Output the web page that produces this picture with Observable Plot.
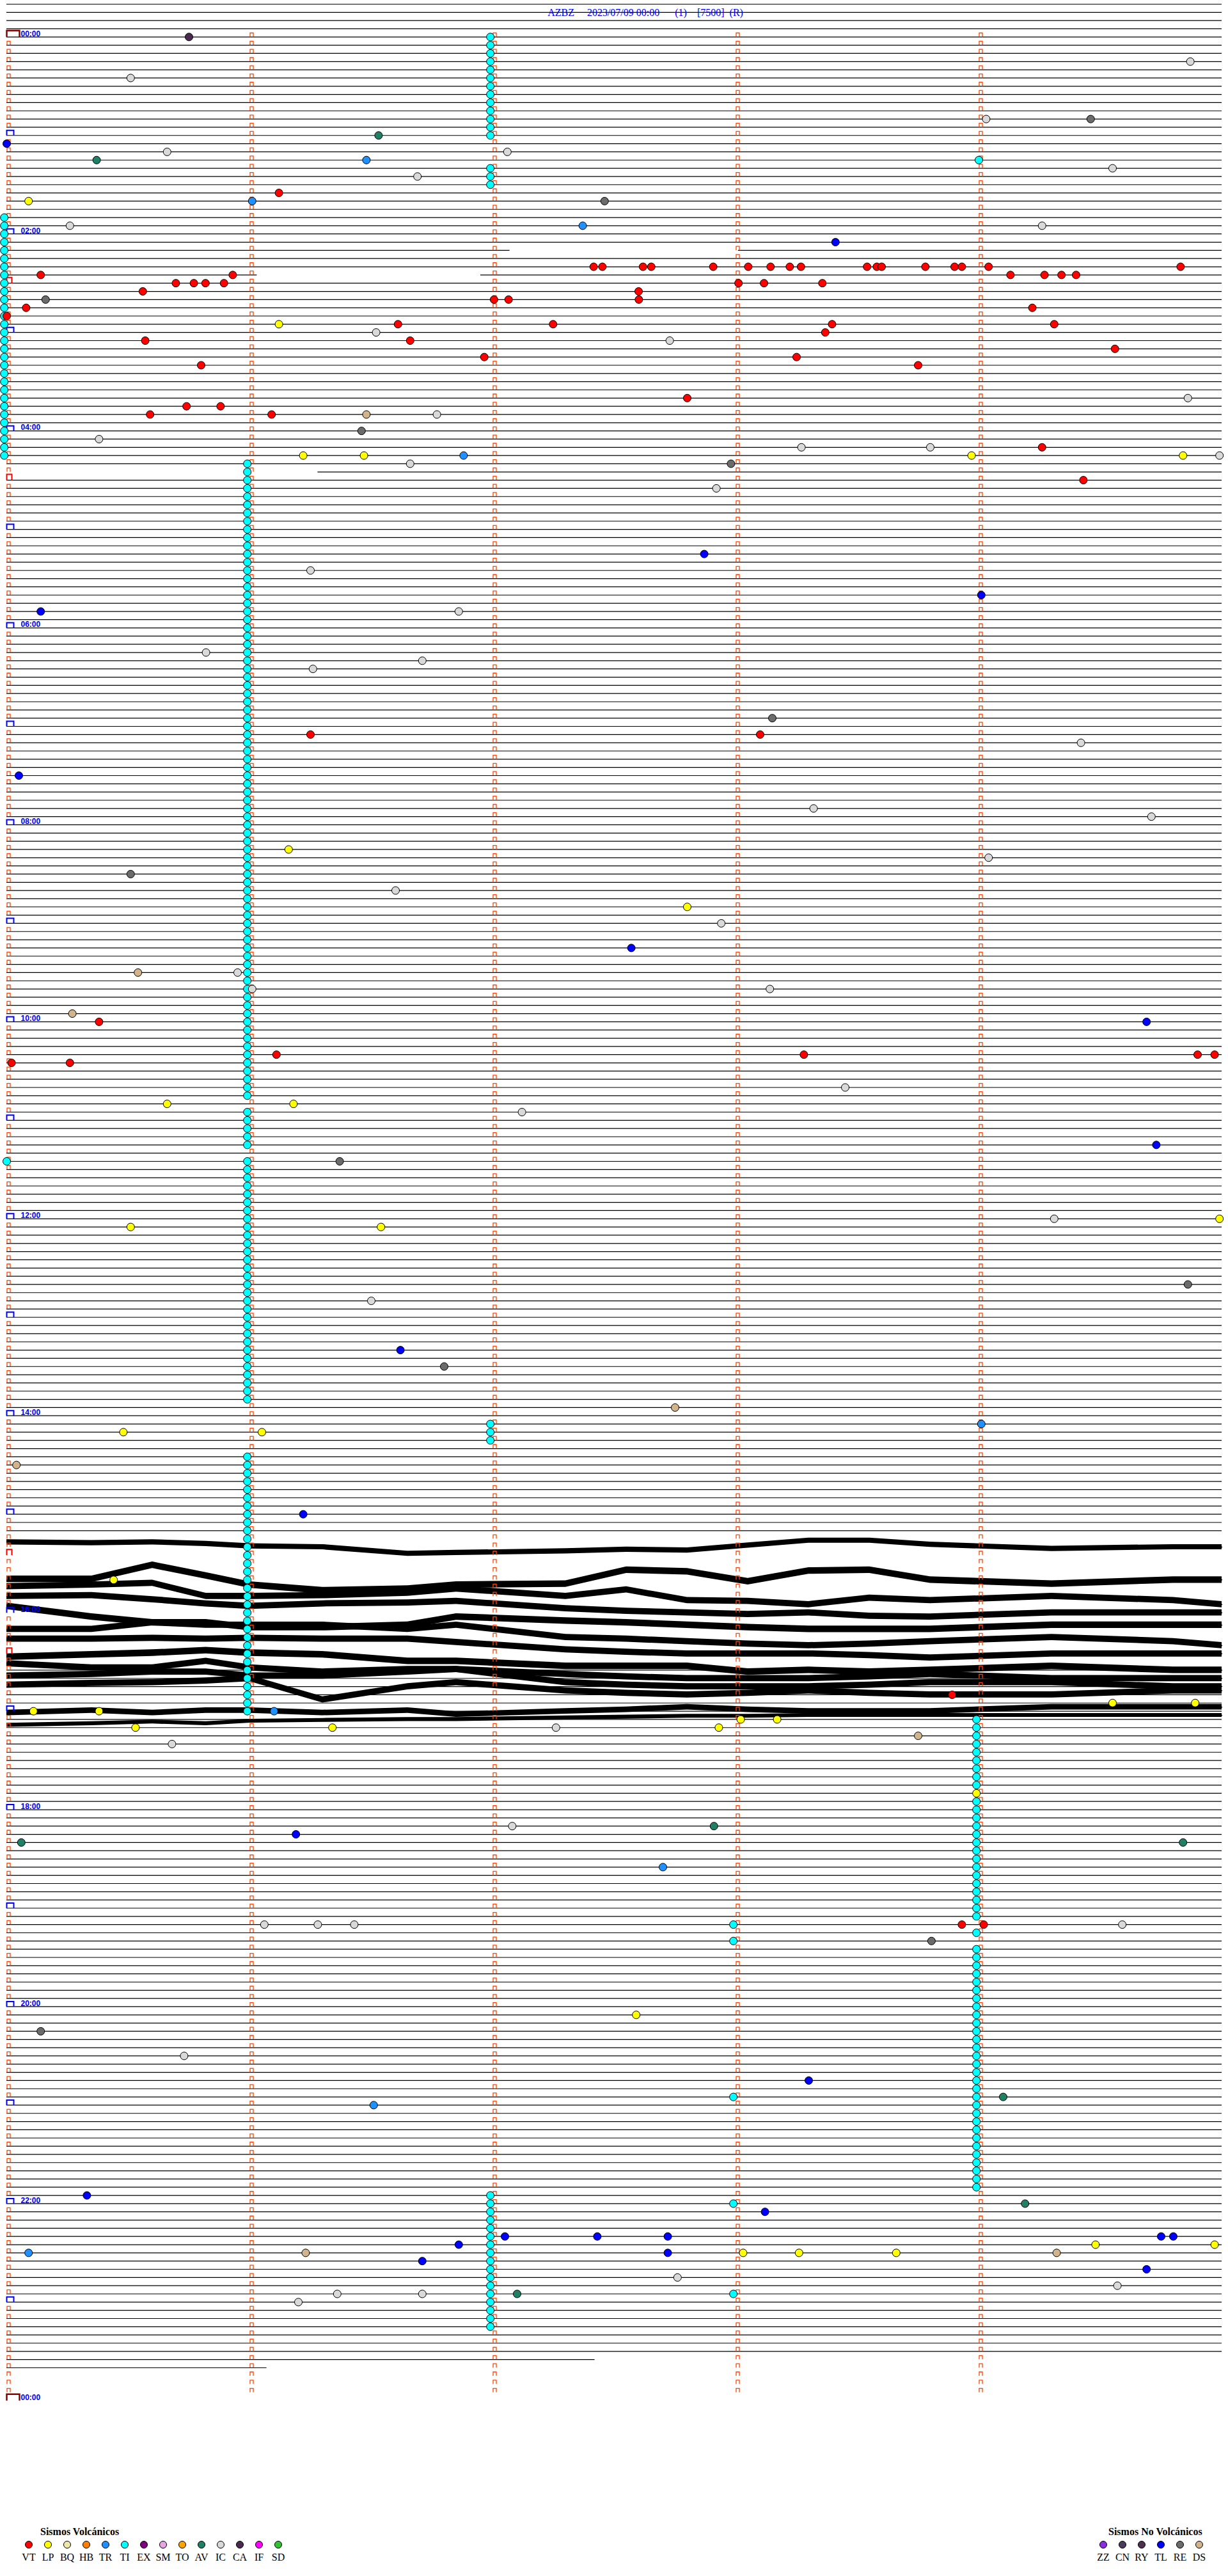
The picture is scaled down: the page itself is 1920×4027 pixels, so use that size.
<!DOCTYPE html>
<html><head><meta charset="utf-8">
<script src="https://cdn.jsdelivr.net/npm/d3@7"></script>
<script src="https://cdn.jsdelivr.net/npm/@observablehq/plot@0.6"></script>
<style>
body{margin:0;background:#fff;}
#chart svg{display:block;}
#legend{position:relative;width:1920px;height:97px;font-family:"Liberation Serif","Times New Roman",serif;color:#000;}
#legend .hdr{position:absolute;font-weight:bold;font-size:16px;transform:translateY(-50%);white-space:nowrap;}
#legend .sw{position:absolute;width:12px;height:12px;border-radius:50%;border:1px solid #000;box-sizing:border-box;transform:translate(-50%,-50%);}
#legend .lb{position:absolute;font-size:16px;transform:translate(-50%,-50%);white-space:nowrap;}
</style></head><body>
<div id="chart"></div>
<div id="legend"></div>
<script>
// ---------------- DATA ----------------
const titleText = "AZBZ\u00a0\u00a0\u00a0\u00a0\u00a02023/07/09 00:00\u00a0\u00a0\u00a0\u00a0\u00a0\u00a0(1)\u00a0\u00a0\u00a0\u00a0[7500]\u00a0\u00a0(R)";
const rowsPerDay = 288;           // 5-minute lines
const preRows = [-4, -3, -2, -1];  // lines above 00:00
const lastLineRow = 284;
const hourLabels = ["00:00","02:00","04:00","06:00","08:00","10:00","12:00","14:00","16:00","18:00","20:00","22:00","00:00"];
const minuteTicks = [0, 1, 2, 3, 4];

const volcCodes  = ["VT","LP","BQ","HB","TR","TI","EX","SM","TO","AV","IC","CA","IF","SD"];
const volcColors = ["#ff0000","#ffff00","#eee8aa","#ff8000","#1e90ff","#00ffff","#800080","#e6a6e6","#ffa500","#1f8066","#d9d9d9","#4b2a4f","#ff00ff","#33c033"];
const nvCodes    = ["ZZ","CN","RY","TL","RE","DS"];
const nvColors   = ["#8a2be2","#4a3a5c","#503050","#0000ff","#6b6b6b","#d2b48c"];

// rows with partial lines: [row, [[fromMinute, toMinute], ...]]
const partialLines = [
  [26, [[0, 2.07], [3.01, 5]]],
  [29, [[0, 1.03], [1.95, 5]]],
  [53, [[1.28, 5]]],
  [283, [[0, 2.42]]],
  [284, [[0, 1.07]]]
];
// rows where the trace is a noisy drifting band instead of a clean line
const noiseRows = [183,184,185,186,187,188,189,190,191,192,193,194,195,196,197,198];
// red reset brackets (rows)
const redBracketRows = [30, 54, 185, 197];

// continuous tremor (TI) columns: [minute, fromRow, toRow]
const tiColumns = [
  [1.99, 0, 12], [1.99, 16, 18],
  [-0.01, 22, 51],
  [0.99, 52, 129], [0.99, 131, 135], [0.99, 137, 166],
  [1.99, 169, 171],
  [0.99, 173, 204],
  [3.99, 205, 213], [3.99, 215, 229], [3.99, 231, 231], [3.99, 233, 262],
  [1.99, 263, 279]
];

// individual events: [row, minute, code]
const events = [
  [0,0.75,"CA"],[3,4.87,"IC"],[5,0.51,"IC"],[10,4.03,"IC"],[10,4.46,"RE"],[12,1.53,"AV"],
  [13,0.0,"TL"],[14,0.66,"IC"],[14,2.06,"IC"],[15,0.37,"AV"],[15,1.48,"TR"],[15,4.0,"TI"],
  [16,4.55,"IC"],[17,1.69,"IC"],[19,1.12,"VT"],[20,0.09,"LP"],[20,1.01,"TR"],[20,2.46,"RE"],
  [23,0.26,"IC"],[23,2.37,"TR"],[23,4.26,"IC"],[25,3.41,"TL"],
  [28,2.415,"VT"],[28,2.451,"VT"],[28,2.618,"VT"],[28,2.652,"VT"],[28,2.907,"VT"],[28,3.051,"VT"],
  [28,3.143,"VT"],[28,3.222,"VT"],[28,3.268,"VT"],[28,3.54,"VT"],[28,3.58,"VT"],[28,3.60,"VT"],
  [28,3.78,"VT"],[28,3.90,"VT"],[28,3.93,"VT"],[28,4.04,"VT"],[28,4.83,"VT"],
  [29,0.14,"VT"],[29,0.93,"VT"],[29,4.13,"VT"],[29,4.27,"VT"],[29,4.34,"VT"],[29,4.40,"VT"],
  [30,0.696,"VT"],[30,0.77,"VT"],[30,0.818,"VT"],[30,0.894,"VT"],[30,3.011,"VT"],[30,3.116,"VT"],[30,3.356,"VT"],
  [31,0.56,"VT"],[31,2.60,"VT"],[32,0.16,"RE"],[32,2.005,"VT"],[32,2.065,"VT"],[32,2.601,"VT"],
  [33,0.08,"VT"],[33,4.22,"VT"],[34,0.0,"VT"],
  [35,1.12,"LP"],[35,1.61,"VT"],[35,2.248,"VT"],[35,3.396,"VT"],[35,4.31,"VT"],
  [36,1.52,"IC"],[36,3.368,"VT"],[37,0.57,"VT"],[37,1.66,"VT"],[37,2.728,"IC"],[38,4.56,"VT"],
  [39,1.965,"VT"],[39,3.25,"VT"],[40,0.80,"VT"],[40,3.75,"VT"],
  [44,2.80,"VT"],[44,4.86,"IC"],[45,0.74,"VT"],[45,0.88,"VT"],[46,0.59,"VT"],[46,1.09,"VT"],
  [46,1.48,"DS"],[46,1.77,"IC"],[48,1.46,"RE"],[49,0.38,"IC"],
  [50,3.27,"IC"],[50,3.80,"IC"],[50,4.26,"VT"],[51,1.22,"LP"],[51,1.47,"LP"],[51,1.88,"TR"],
  [51,3.97,"LP"],[51,4.84,"LP"],[51,4.99,"IC"],[52,1.66,"IC"],[52,2.98,"RE"],[54,4.43,"VT"],[55,2.92,"IC"],
  [63,2.87,"TL"],[65,1.25,"IC"],[68,4.01,"TL"],[70,0.14,"TL"],[70,1.86,"IC"],[75,0.82,"IC"],
  [76,1.71,"IC"],[77,1.26,"IC"],[83,3.15,"RE"],[85,1.25,"VT"],[85,3.10,"VT"],[86,4.42,"IC"],
  [90,0.05,"TL"],[94,3.32,"IC"],[95,4.71,"IC"],[99,1.16,"LP"],[100,4.04,"IC"],[102,0.51,"RE"],
  [104,1.60,"IC"],[106,2.80,"LP"],[108,2.94,"IC"],[111,2.57,"TL"],[114,0.54,"DS"],[114,0.95,"IC"],
  [116,1.01,"IC"],[116,3.14,"IC"],[119,0.27,"DS"],[120,0.38,"VT"],[120,4.69,"TL"],
  [124,1.11,"VT"],[124,3.28,"VT"],[124,4.90,"VT"],[124,4.97,"VT"],[125,0.02,"VT"],[125,0.26,"VT"],
  [128,3.45,"IC"],[130,0.66,"LP"],[130,1.18,"LP"],[131,2.12,"IC"],[135,4.73,"TL"],[137,0.0,"TI"],
  [137,1.37,"RE"],[144,4.31,"IC"],[144,4.99,"LP"],[145,0.51,"LP"],[145,1.54,"LP"],[152,4.86,"RE"],
  [154,1.50,"IC"],[160,1.62,"TL"],[162,1.80,"RE"],[167,2.75,"DS"],[169,4.01,"TR"],
  [170,0.48,"LP"],[170,1.05,"LP"],[174,0.04,"DS"],[180,1.22,"TL"],
  [188,0.44,"LP"],[202,3.89,"VT"],[203,4.55,"LP"],[203,4.89,"LP"],
  [204,0.11,"LP"],[204,0.38,"LP"],[204,1.10,"TR"],[205,3.02,"LP"],[205,3.17,"LP"],
  [206,0.53,"LP"],[206,1.34,"LP"],[206,2.26,"IC"],[206,2.93,"LP"],[207,3.75,"DS"],[208,0.68,"IC"],
  [218,2.08,"IC"],[218,2.91,"AV"],[219,1.19,"TL"],[220,0.06,"AV"],[220,4.84,"AV"],[223,2.70,"TR"],
  [214,3.99,"LP"],
  [230,1.06,"IC"],[230,1.28,"IC"],[230,1.43,"IC"],[230,2.99,"TI"],[230,3.93,"VT"],[230,4.02,"VT"],
  [230,4.59,"IC"],[232,2.99,"TI"],[232,3.805,"RE"],
  [241,2.59,"LP"],[243,0.14,"RE"],[246,0.73,"IC"],[249,3.30,"TL"],[251,2.99,"TI"],[251,4.10,"AV"],
  [252,1.51,"TR"],[263,0.33,"TL"],[264,2.99,"TI"],[264,4.19,"AV"],[265,3.12,"TL"],
  [268,2.05,"TL"],[268,2.43,"TL"],[268,2.72,"TL"],[268,4.75,"TL"],[268,4.80,"TL"],[269,1.86,"TL"],
  [269,4.48,"LP"],[269,4.97,"LP"],[270,0.09,"TR"],[270,1.23,"DS"],[270,2.72,"TL"],[270,3.03,"LP"],
  [270,3.26,"LP"],[270,3.66,"LP"],[270,4.32,"DS"],[271,1.71,"TL"],[272,4.69,"TL"],[273,2.76,"IC"],
  [274,4.57,"IC"],[275,1.36,"IC"],[275,1.71,"IC"],[275,2.10,"AV"],[275,2.99,"TI"],[276,1.20,"IC"]
];

// noisy band traces (estimated centre row at sample minutes) and half thickness (rows)
const noiseMinutes = [0, 0.35, 0.6, 0.82, 1.0, 1.3, 1.65, 1.85, 2.3, 2.55, 2.8, 3.05, 3.3, 3.55, 3.8, 4.3, 4.8, 5.0];
const noiseBands = [
  [183.4,183.5,183.4,183.6,183.9,184.0,184.8,184.7,184.5,184.3,184.4,183.8,183.2,183.2,183.7,184.2,184.0,184.0],
  [187.9,187.9,186.2,187.5,188.6,189.3,189.1,188.6,188.5,186.8,187.0,188.2,186.9,186.8,188.0,188.5,188.0,188.0],
  [188.8,188.6,188.4,190.0,190.0,189.9,189.6,189.1,190.0,189.2,190.5,190.6,191.0,190.2,190.5,190.0,190.5,191.0],
  [190.0,189.9,190.4,190.9,191.2,190.9,190.8,190.6,191.5,191.8,192.0,192.2,192.0,192.4,192.5,192.0,192.0,192.0],
  [191.2,192.5,193.2,193.2,193.8,193.8,193.5,192.5,193.0,193.2,193.5,193.8,194.0,194.0,194.0,193.5,193.5,193.5],
  [194.0,194.0,193.2,193.5,193.5,193.5,194.0,193.5,195.0,195.2,195.5,195.8,196.0,195.8,195.5,195.0,195.5,196.0],
  [195.2,195.2,195.1,195.2,195.1,195.2,195.2,195.6,196.5,196.8,197.0,197.0,197.0,197.2,197.5,197.0,197.0,197.0],
  [197.4,197.1,196.9,196.6,196.9,197.1,197.9,197.9,198.5,198.5,198.5,199.2,199.0,199.2,199.0,198.5,199.0,199.0],
  [198.2,198.7,198.7,197.9,198.7,199.2,198.9,198.9,199.5,199.8,200.0,200.0,200.0,199.8,199.5,200.0,200.0,200.0],
  [199.7,199.5,199.2,199.2,199.7,199.7,199.2,198.9,200.5,200.8,201.0,201.0,201.0,200.8,200.5,200.5,201.0,201.0],
  [200.8,200.6,200.5,200.3,200.0,202.6,201.0,200.5,201.5,201.8,202.0,201.8,201.5,201.8,202.0,202.0,201.5,201.5],
  [204.2,203.9,204.2,203.9,203.9,204.2,203.9,204.4,204.0,203.8,203.5,203.8,204.0,204.0,204.0,203.5,203.5,203.5],
  [205.7,205.5,205.3,205.5,205.2,205.1,205.0,205.0,204.8,204.7,204.6,204.6,204.5,204.5,204.5,204.5,204.5,204.5]
];
const noiseHalf = [0.32,0.4,0.38,0.38,0.4,0.38,0.38,0.4,0.38,0.38,0.38,0.34,0.24];

// ---------------- BUILD ----------------
const cap = (w, h) => ({draw(ctx) { ctx.moveTo(-w/2, h/2); ctx.lineTo(-w/2, -h/2); ctx.lineTo(w/2, -h/2); ctx.lineTo(w/2, h/2); }});

const rowLines = [];
for (let r = preRows[0]; r <= lastLineRow; r++) {
  if (noiseRows.includes(r)) continue;
  const p = partialLines.find(d => d[0] === r);
  (p ? p[1] : [[0, 5]]).forEach(([a, b]) => rowLines.push({row: r, x1: a, x2: b}));
}
const hourRows = d3.range(0, rowsPerDay + 1, 12);
const markers = [];
for (let r = 0; r < rowsPerDay; r++) for (const m of minuteTicks) {
  if (m === 0 && (r % 12 === 0 || redBracketRows.includes(r))) continue;
  markers.push({row: r, minute: m});
}
const blueBr = hourRows.filter(r => r > 0 && r < rowsPerDay).map(r => ({row: r}));
const dayBr = [{row: 0}, {row: rowsPerDay}];
const redBr = redBracketRows.map(r => ({row: r}));
const labels = hourLabels.map((t, i) => ({row: i * 24, text: t}));
const tiDots = [];
tiColumns.forEach(([m, a, b]) => { for (let r = a; r <= b; r++) tiDots.push({row: r, minute: m, code: "TI"}); });
const evDots = events.map(([row, minute, code]) => ({row, minute, code}));
const noisePts = [];
noiseBands.forEach((band, i) => band.forEach((c, j) => noisePts.push({band: i, m: noiseMinutes[j], lo: c - noiseHalf[i], hi: c + noiseHalf[i], c})));

const chart = Plot.plot({
  width: 1920, height: 3930, margin: 0,
  style: {background: "#fff", overflow: "visible"},
  x: {domain: [0, 5], range: [10, 1910], axis: null},
  y: {domain: [0, rowsPerDay], range: [57.3, 3752.3], axis: null},
  color: {domain: [...volcCodes, ...nvCodes], range: [...volcColors, ...nvColors]},
  marks: [
    Plot.ruleY(rowLines, {y: "row", x1: "x1", x2: "x2", stroke: "#000", strokeWidth: 1.2}),
    Plot.areaY(noisePts, {x: "m", y1: "lo", y2: "hi", z: "band", fill: "#000", curve: "linear"}),
    Plot.line(noisePts, {x: "m", y: "c", z: "band", stroke: "#000", strokeWidth: 1.5, curve: "linear"}),
    Plot.dot(markers, {x: "minute", y: "row", symbol: cap(5, 6), stroke: "#ff4500", strokeWidth: 1.3, fill: "none", dx: 3, dy: -3.3}),
    Plot.dot(blueBr, {x: () => 0, y: "row", symbol: cap(11, 8), stroke: "#0000ff", strokeWidth: 2, fill: "none", dx: 5.5, dy: -4}),
    Plot.dot(redBr, {x: () => 0, y: "row", symbol: cap(8, 9), stroke: "#ff0000", strokeWidth: 2, fill: "none", dx: 4, dy: -4.5}),
    Plot.dot(dayBr, {x: () => 0, y: "row", symbol: cap(20, 10), stroke: "#8b0000", strokeWidth: 2.5, fill: "none", dx: 10, dy: -5}),
    Plot.text(labels, {x: () => 0, y: "row", text: "text", textAnchor: "start", dx: 22, dy: -5, fill: "#0000ff", fontWeight: "bold", fontSize: 12, fontFamily: "Liberation Sans, Arial, sans-serif"}),
    Plot.dot(tiDots, {x: "minute", y: "row", fill: "code", r: 6, stroke: "#000", strokeWidth: 1}),
    Plot.dot(evDots, {x: "minute", y: "row", fill: "code", r: 6, stroke: "#000", strokeWidth: 1}),
    Plot.text([titleText], {frameAnchor: "top", dy: 13, dx: 48.5, fill: "#0000ff", fontSize: 16, fontFamily: "Liberation Serif, Times New Roman, serif"})
  ]
});
document.getElementById("chart").appendChild(chart);

// legend
const lg = document.getElementById("legend");
function addGroup(title, titleX, codes, colors, x0) {
  const h = document.createElement("div"); h.className = "hdr"; h.textContent = title;
  h.style.left = titleX + "px"; h.style.top = "28px"; lg.appendChild(h);
  codes.forEach((c, i) => {
    const s = document.createElement("div"); s.className = "sw"; s.style.background = colors[i];
    s.style.left = (x0 + 30 * i) + "px"; s.style.top = "48px"; lg.appendChild(s);
    const t = document.createElement("div"); t.className = "lb"; t.textContent = c;
    t.style.left = (x0 + 30 * i) + "px"; t.style.top = "68px"; lg.appendChild(t);
  });
}
addGroup("Sismos Volcánicos", 63, volcCodes, volcColors, 45);
addGroup("Sismos No Volcánicos", 1733, nvCodes, nvColors, 1725);
</script>
</body></html>
